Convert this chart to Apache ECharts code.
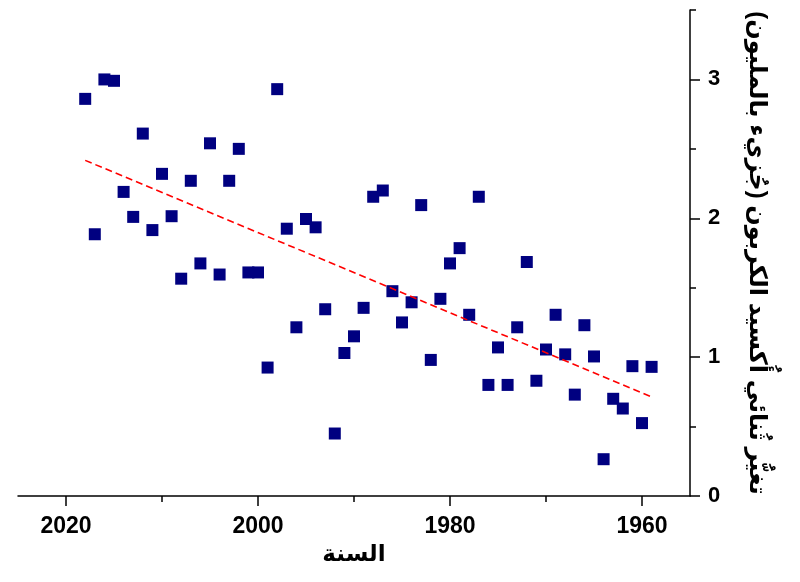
<!DOCTYPE html>
<html>
<head>
<meta charset="utf-8">
<script src="https://cdn.jsdelivr.net/npm/echarts@6/dist/echarts.min.js"></script>
<style>html,body{margin:0;padding:0;background:#fff}#c{width:800px;height:582px}</style>
</head>
<body>
<div id="c"></div>
<script>
var years = [2018,2017,2016,2015,2014,2013,2012,2011,2010,2009,2008,2007,2006,2005,2004,2003,2002,2001,2000,1999,1998,1997,1996,1995,1994,1993,1992,1991,1990,1989,1988,1987,1986,1985,1984,1983,1982,1981,1980,1979,1978,1977,1976,1975,1974,1973,1972,1971,1970,1969,1968,1967,1966,1965,1964,1963,1962,1961,1960,1959];
var co2Change = [2.86,1.885,3.00,2.99,2.19,2.01,2.61,1.915,2.32,2.015,1.565,2.27,1.675,2.54,1.595,2.27,2.50,1.61,1.61,0.925,2.93,1.925,1.215,1.995,1.935,1.345,0.45,1.03,1.15,1.355,2.155,2.20,1.475,1.25,1.395,2.095,0.98,1.42,1.675,1.785,1.305,2.155,0.80,1.07,0.80,1.215,1.685,0.83,1.055,1.305,1.02,0.73,1.23,1.005,0.265,0.70,0.63,0.935,0.525,0.93];
var trendYears = [2018,1959];
var trendValues = [2.417,0.714];
var xLabelValues = [1960,1980,2000,2020];
var xMinorValues = [1970,1990,2010];
var yLabelValues = [0,1,2,3];
var yMinorValues = [0.5,1.5,2.5,3.5];
var xTitle = 'السنة';
var yTitle = 'تغيُّر ثُنائي أُكسيد الكربون (جُزيء بالمليون)';

var scatterData = years.map(function(y,i){return [y, co2Change[i]];});
var trendData = trendYears.map(function(y,i){return [y, trendValues[i]];});
var fontFam = "'Liberation Sans', Arial, 'DejaVu Sans', sans-serif";

var chart = echarts.init(document.getElementById('c'), null, {renderer:'canvas'});
chart.setOption({
  animation:false,
  backgroundColor:'#ffffff',
  grid:{left:18, right:110, top:10, bottom:86, containLabel:false},
  xAxis:[{
    type:'value', inverse:true, min:1955, max:2025,
    position:'bottom',
    axisLine:{show:true, onZero:false, lineStyle:{color:'#000', width:1.5}},
    axisTick:{show:true, inside:false, length:10, lineStyle:{color:'#000', width:1.5}, customValues:xLabelValues},
    axisLabel:{show:true, margin:19, color:'#000', fontSize:23, fontWeight:'bold', fontFamily:fontFam, customValues:xLabelValues,
      formatter:function(v){return String(v);}},
    splitLine:{show:false},
    name:xTitle, nameLocation:'middle', nameGap:44,
    nameTextStyle:{color:'#000', fontSize:23, fontWeight:'bold', fontFamily:fontFam}
  },{
    type:'value', inverse:true, min:1955, max:2025,
    position:'bottom', offset:0,
    axisLine:{show:false},
    axisTick:{show:true, inside:false, length:6, lineStyle:{color:'#000', width:1.5}, customValues:xMinorValues},
    axisLabel:{show:false},
    splitLine:{show:false}
  }],
  yAxis:[{
    type:'value', min:0, max:3.5, position:'right',
    axisLine:{show:true, onZero:false, lineStyle:{color:'#000', width:1.5}},
    axisTick:{show:true, inside:false, length:10, lineStyle:{color:'#000', width:1.5}, customValues:yLabelValues},
    axisLabel:{show:true, margin:18, color:'#000', fontSize:22, fontWeight:'bold', fontFamily:fontFam, customValues:yLabelValues,
      formatter:function(v){return String(v);}},
    splitLine:{show:false},
    name:yTitle, nameLocation:'middle', nameGap:55, nameRotate:-90,
    nameTextStyle:{color:'#000', fontSize:24, fontWeight:'bold', fontFamily:fontFam}
  },{
    type:'value', min:0, max:3.5, position:'right', offset:0,
    axisLine:{show:false},
    axisTick:{show:true, inside:false, length:6, lineStyle:{color:'#000', width:1.5}, customValues:yMinorValues},
    axisLabel:{show:false},
    splitLine:{show:false}
  }],
  series:[{
    type:'scatter', xAxisIndex:0, yAxisIndex:0,
    symbol:'rect', symbolSize:12,
    itemStyle:{color:'#000080', opacity:1},
    data:scatterData, z:3
  },{
    type:'line', xAxisIndex:0, yAxisIndex:0,
    showSymbol:false, symbol:'none',
    lineStyle:{color:'#ff0000', width:1.6, type:[7,4]},
    data:trendData, z:4
  }]
});
</script>
</body>
</html>
